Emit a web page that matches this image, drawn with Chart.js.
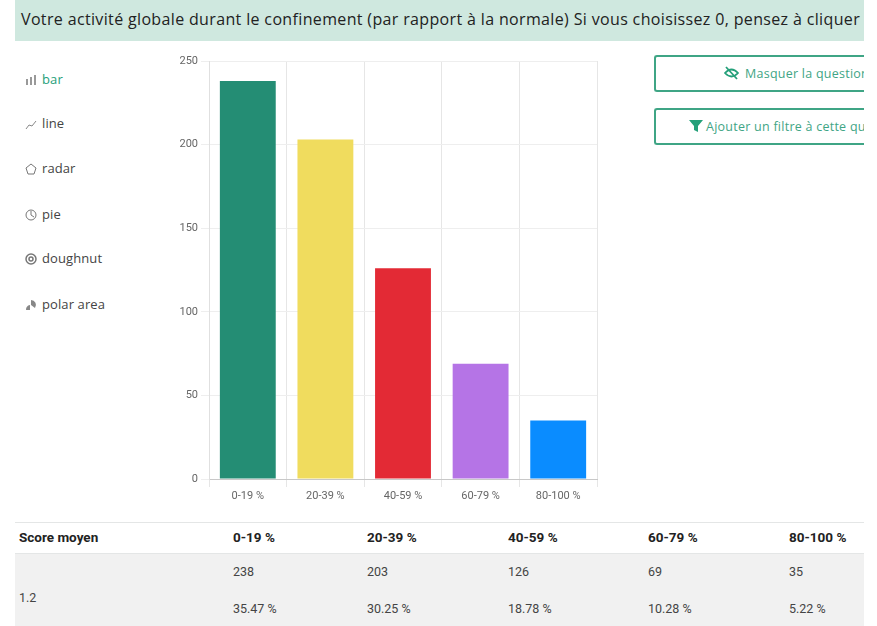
<!DOCTYPE html>
<html lang="fr">
<head>
<meta charset="utf-8">
<title>Votre activité globale</title>
<script src="https://cdn.jsdelivr.net/npm/chart.js@4"></script>
<style>
  html, body { margin: 0; background: #fff; }
  body { width: 877px; height: 626px; position: relative; overflow: hidden; font-family: "Open Sans", sans-serif; }
  #title { position: absolute; left: 15px; top: 0; width: 849px; height: 41px; background: #cfe8df; color: #222;
    font-size: 16px; letter-spacing: 0.35px; line-height: 39px; white-space: nowrap; overflow: hidden; text-indent: 6px; }
  #types div { position: absolute; left: 42px; font-size: 13px; letter-spacing: 0.1px; color: #444; white-space: nowrap; }
  #types svg { position: absolute; left: -17px; top: 4px; }
  #types .on { color: #25a07a; }
  #chart-box { position: absolute; left: 159px; top: 50px; width: 445px; height: 460px; }
  .btn { position: absolute; left: 654px; width: 210px; height: 37px; box-sizing: border-box; border: 2px solid #3fa585;
    border-right: 0; border-radius: 3px 0 0 3px; color: #3fa585; font-size: 12.5px; letter-spacing: 0.25px; line-height: 33px; white-space: nowrap; overflow: hidden; }
  .btn span { position: absolute; top: 0; }
  .btn svg { position: absolute; top: 9px; }
  #stats { position: absolute; left: 15px; top: 522px; width: 849px; height: 104px; border-top: 1.5px solid #e4e6e6; font-size: 12.5px; color: #444; font-family: Roboto, sans-serif; }
  #stats .head { position: absolute; left: 0; top: 0; width: 100%; height: 30px; border-bottom: 1.5px solid #e4e6e6; }
  #stats .band { position: absolute; left: 0; top: 31px; width: 100%; height: 73px; background: #f1f1f1; }
  #stats span { position: absolute; white-space: nowrap; }
  #stats b { font-weight: 700; font-size: 13.5px; color: #222; }
</style>
</head>
<body>
<div id="title">Votre activité globale durant le confinement (par rapport à la normale) Si vous choisissez 0, pensez à cliquer</div>

<div id="types">
  <div class="on" style="top:70px"><svg width="12" height="12" viewBox="0 0 12 12" fill="#999"><rect x="1" y="5" width="2" height="6"/><rect x="5" y="3" width="2" height="8"/><rect x="9" y="1" width="2" height="10"/></svg>bar</div>
  <div style="top:114px"><svg width="12" height="12" viewBox="0 0 12 12" fill="none" stroke="#888"><path d="M1 11 L4 7 L7 8 L11 3"/></svg>line</div>
  <div style="top:159px"><svg width="12" height="12" viewBox="0 0 12 12" fill="none" stroke="#777"><path d="M6 1 L11 5 L9 11 L3 11 L1 5 Z"/></svg>radar</div>
  <div style="top:205px"><svg width="12" height="12" viewBox="0 0 12 12" fill="none" stroke="#777"><circle cx="6" cy="6" r="5"/><path d="M6 2 V6 L9 8"/></svg>pie</div>
  <div style="top:249px"><svg width="12" height="12" viewBox="0 0 12 12" fill="none" stroke="#777" stroke-width="1.5"><circle cx="6" cy="6" r="5"/><circle cx="6" cy="6" r="2"/></svg>doughnut</div>
  <div style="top:295px"><svg width="12" height="12" viewBox="0 0 12 12" fill="#888"><path d="M6 1 A5 5 0 0 1 10 9 L6 6 Z"/><path d="M5 6 V11 H1 A5 5 0 0 1 5 6 Z"/></svg>polar area</div>
</div>

<div id="chart-box"><canvas id="activityChart" width="445" height="460"></canvas></div>

<div class="btn" style="top:55px">
  <svg style="left:68px" width="15" height="14" viewBox="0 0 15 14" fill="none" stroke="#25a07a" stroke-width="1.8"><path d="M1 7 Q7.5 0 14 7 Q7.5 14 1 7 Z"/><path d="M2 1 L13 13"/></svg>
  <span style="left:89px">Masquer la question</span>
</div>
<div class="btn" style="top:108px">
  <svg style="left:33px" width="14" height="14" viewBox="0 0 14 14" fill="#25a07a"><path d="M0 1 H14 L9 7 V13 L5 11 V7 Z"/></svg>
  <span style="left:50px">Ajouter un filtre à cette question</span>
</div>

<div id="stats">
  <div class="head"></div>
  <div class="band"></div>
</div>

<script>
const categories = ['0-19 %', '20-39 %', '40-59 %', '60-79 %', '80-100 %'];
const counts = [238, 203, 126, 69, 35];
const percents = ['35.47 %', '30.25 %', '18.78 %', '10.28 %', '5.22 %'];
const barColors = ['#248d74', '#f0dc5e', '#e32a35', '#b574e6', '#0a8cff'];
const columnLeft = [218, 352, 493, 633, 774];

// stats table under the chart
const stats = document.getElementById('stats');
function addCell(text, left, top, bold) {
  const cell = document.createElement('span');
  cell.style.left = left + 'px';
  cell.style.top = top + 'px';
  if (bold) {
    const b = document.createElement('b');
    b.textContent = text;
    cell.appendChild(b);
  } else {
    cell.textContent = text;
  }
  stats.appendChild(cell);
}
addCell('Score moyen', 4, 6, true);
addCell('1.2', 4, 67, false);
categories.forEach((cat, i) => {
  addCell(cat, columnLeft[i], 6, true);
  addCell(String(counts[i]), columnLeft[i], 41, false);
  addCell(percents[i], columnLeft[i], 78, false);
});

const ctx = document.getElementById('activityChart').getContext('2d');
new Chart(ctx, {
  type: 'bar',
  data: {
    labels: categories,
    datasets: [{
      data: counts,
      backgroundColor: barColors,
      barPercentage: 0.72,
      categoryPercentage: 1
    }]
  },
  options: {
    responsive: false,
    animation: false,
    layout: { padding: { top: 11, right: 7, left: 0, bottom: 0 } },
    plugins: { legend: { display: false }, tooltip: { enabled: false } },
    scales: {
      x: {
        grid: { color: '#e6e6e6', tickLength: 8 },
        border: { color: '#c8c8c8' },
        ticks: { color: '#666', font: { family: 'Roboto', size: 11 }, maxRotation: 0 },
        afterFit: scale => { scale.height = 31; }
      },
      y: {
        min: 0,
        max: 250,
        grid: { color: '#eeeeee', tickLength: 8 },
        border: { color: '#e0e0e0' },
        ticks: { stepSize: 50, color: '#666', font: { family: 'Roboto', size: 11 }, padding: 3 },
        afterFit: scale => { scale.width = 50; }
      }
    }
  }
});
</script>
</body>
</html>
